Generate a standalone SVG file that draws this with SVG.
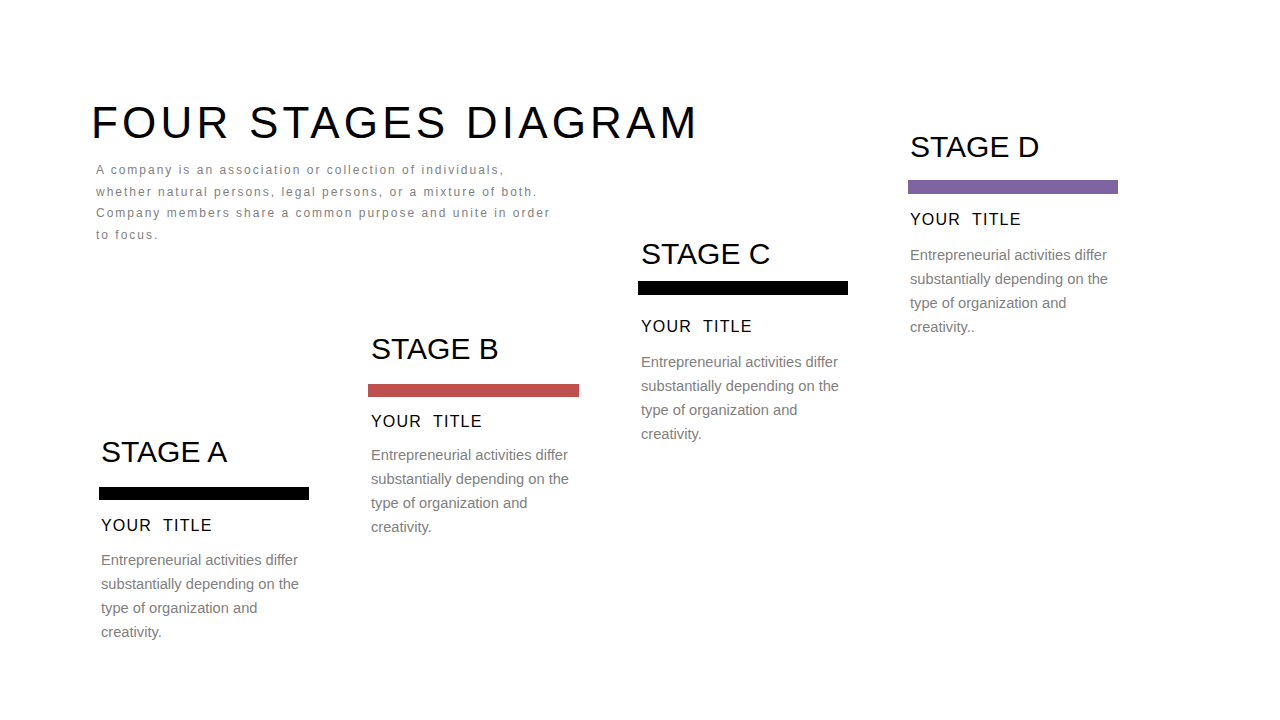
<svg xmlns="http://www.w3.org/2000/svg" width="1280" height="720" viewBox="0 0 1280 720">
<style>
  text { font-family: "Liberation Sans", Arial, sans-serif; }
  .title { font-size: 44px; letter-spacing: 4.2px; fill: #000; }
  .intro { font-size: 12px; letter-spacing: 2px; fill: #7f7f7f; }
  .head { font-size: 30px; fill: #000; }
  .sub { font-size: 16px; letter-spacing: 1.2px; fill: #000; white-space: pre; }
  .body { font-size: 14.67px; fill: #7f7f7f; }
</style>
<rect width="1280" height="720" fill="#fff"/>
<g id="header">
  <text class="title" x="91" y="138">FOUR STAGES DIAGRAM</text>
  <text class="intro" x="96" y="174">A company is an association or collection of individuals,</text>
  <text class="intro" x="96" y="196">whether natural persons, legal persons, or a mixture of both.</text>
  <text class="intro" x="96" y="217.3">Company members share a common purpose and unite in order</text>
  <text class="intro" x="96" y="238.5">to focus.</text>
</g>
<g id="connectors"></g>
<g id="stage-a">
  <text class="head" x="101" y="462">STAGE A</text>
  <rect x="99" y="487" width="210" height="13" fill="#000"/>
  <text class="sub" x="101" y="530.5" xml:space="preserve">YOUR  TITLE</text>
  <text class="body" x="101" y="565">Entrepreneurial activities differ</text>
  <text class="body" x="101" y="589">substantially depending on the</text>
  <text class="body" x="101" y="613">type of organization and</text>
  <text class="body" x="101" y="637">creativity.</text>
</g>
<g id="stage-b">
  <text class="head" x="371" y="358.5">STAGE B</text>
  <rect x="368" y="384" width="211" height="13" fill="#c0504d"/>
  <text class="sub" x="371" y="427" xml:space="preserve">YOUR  TITLE</text>
  <text class="body" x="371" y="460">Entrepreneurial activities differ</text>
  <text class="body" x="371" y="484">substantially depending on the</text>
  <text class="body" x="371" y="508">type of organization and</text>
  <text class="body" x="371" y="532">creativity.</text>
</g>
<g id="stage-c">
  <text class="head" x="641" y="263.5">STAGE C</text>
  <rect x="638" y="281" width="210" height="14" fill="#000"/>
  <text class="sub" x="641" y="332" xml:space="preserve">YOUR  TITLE</text>
  <text class="body" x="641" y="366.5">Entrepreneurial activities differ</text>
  <text class="body" x="641" y="390.5">substantially depending on the</text>
  <text class="body" x="641" y="414.5">type of organization and</text>
  <text class="body" x="641" y="438.5">creativity.</text>
</g>
<g id="stage-d">
  <text class="head" x="910" y="157">STAGE D</text>
  <rect x="908" y="180" width="210" height="14" fill="#8064a2"/>
  <text class="sub" x="910" y="225" xml:space="preserve">YOUR  TITLE</text>
  <text class="body" x="910" y="259.5">Entrepreneurial activities differ</text>
  <text class="body" x="910" y="283.5">substantially depending on the</text>
  <text class="body" x="910" y="307.5">type of organization and</text>
  <text class="body" x="910" y="331.5">creativity..</text>
</g>
</svg>
